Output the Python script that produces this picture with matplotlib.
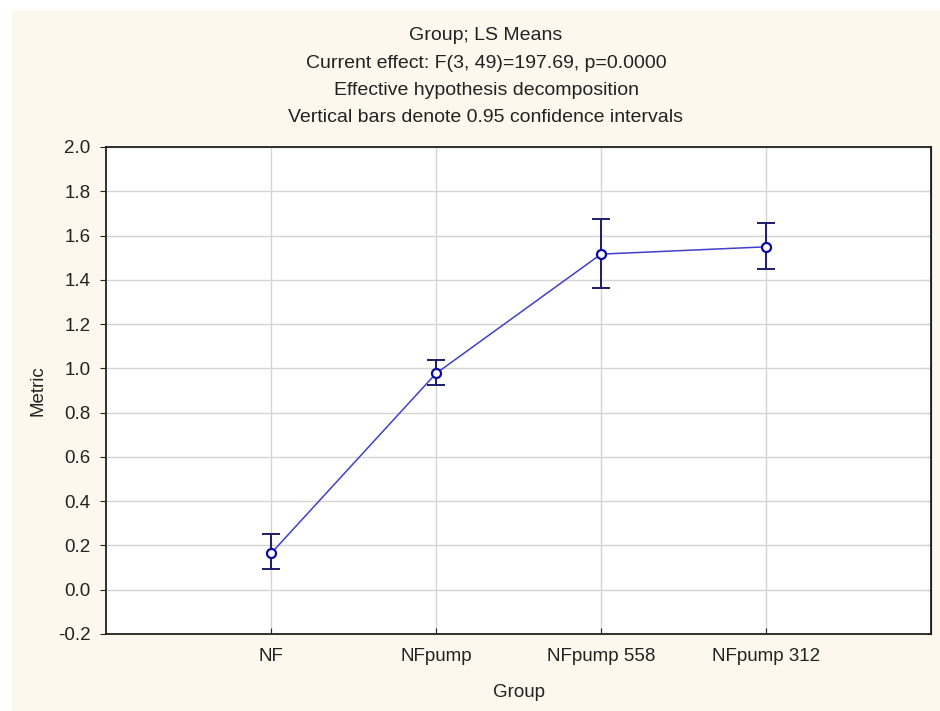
import numpy as np
import matplotlib.pyplot as plt
from matplotlib.patches import Rectangle

plt.rcParams['font.family'] = ['Liberation Sans', 'DejaVu Sans']

groups = ['NF', 'NFpump', 'NFpump 558', 'NFpump 312']
means = [0.164, 0.977, 1.516, 1.549]
upper = [0.250, 1.038, 1.676, 1.655]
lower = [0.092, 0.924, 1.365, 1.447]
title_lines = ['Group; LS Means',
               'Current effect: F(3, 49)=197.69, p=0.0000',
               'Effective hypothesis decomposition',
               'Vertical bars denote 0.95 confidence intervals']
yticks = np.round(np.arange(-0.2, 2.01, 0.2), 1)

bg = '#fcf8ee'
fig = plt.figure(figsize=(9.4, 7.11), dpi=100)
fig.patch.set_facecolor('white')
# cream panel, thin white strip left on top and left side
fig.patches.append(Rectangle((12 / 940, -0.1), 2, 1.1 - 10 / 711, transform=fig.transFigure,
                             facecolor=bg, edgecolor='none', zorder=-10))

ax = fig.add_axes([106 / 940, 77 / 711, 825 / 940, 487 / 711])
ax.set_facecolor('white')

x = np.arange(1, len(groups) + 1)
m = np.array(means)
yerr = [m - np.array(lower), np.array(upper) - m]

ax.plot(x, m, color='#4040cc', lw=1.1, zorder=3)
ax.errorbar(x, m, yerr=yerr, fmt='none', ecolor='#1c1c6a', elinewidth=1.4,
            capsize=6.5, capthick=1.4, zorder=4)
ax.plot(x, m, 'o', ms=6.5, mfc='white', mec='#0a0aa8', mew=1.6, ls='none', zorder=5)

ax.set_xlim(0, 5)
ax.set_ylim(-0.2, 2.0)
ax.set_xticks(x)
ax.set_xticklabels(groups)
ax.set_yticks(yticks)
ax.set_yticklabels([f'{v:.1f}' for v in yticks])
ax.grid(True, color='#d4d4d4', lw=1)
ax.set_axisbelow(True)

for s in ax.spines.values():
    s.set_color('#222222')
    s.set_linewidth(1.3)

ax.tick_params(axis='y', direction='out', length=4, pad=7, labelsize=13.5, colors='#222222')
ax.tick_params(axis='x', direction='in', length=4, pad=10, labelsize=13.5, colors='#222222')
sec = ax.secondary_yaxis('right')
sec.set_yticks(yticks)
sec.tick_params(direction='in', length=3, labelright=False)

ax.set_xlabel('Group', fontsize=13.5, labelpad=14, color='#222222')
ax.set_ylabel('Metric', fontsize=13.5, labelpad=8, color='#222222')

for i, line in enumerate(title_lines):
    fig.text(486 / 940, 1 - (36 + 27.3 * i) / 711, line, ha='center', va='center',
             fontsize=14, color='#222222')

fig.savefig('out.png', dpi=100, facecolor=fig.get_facecolor())
